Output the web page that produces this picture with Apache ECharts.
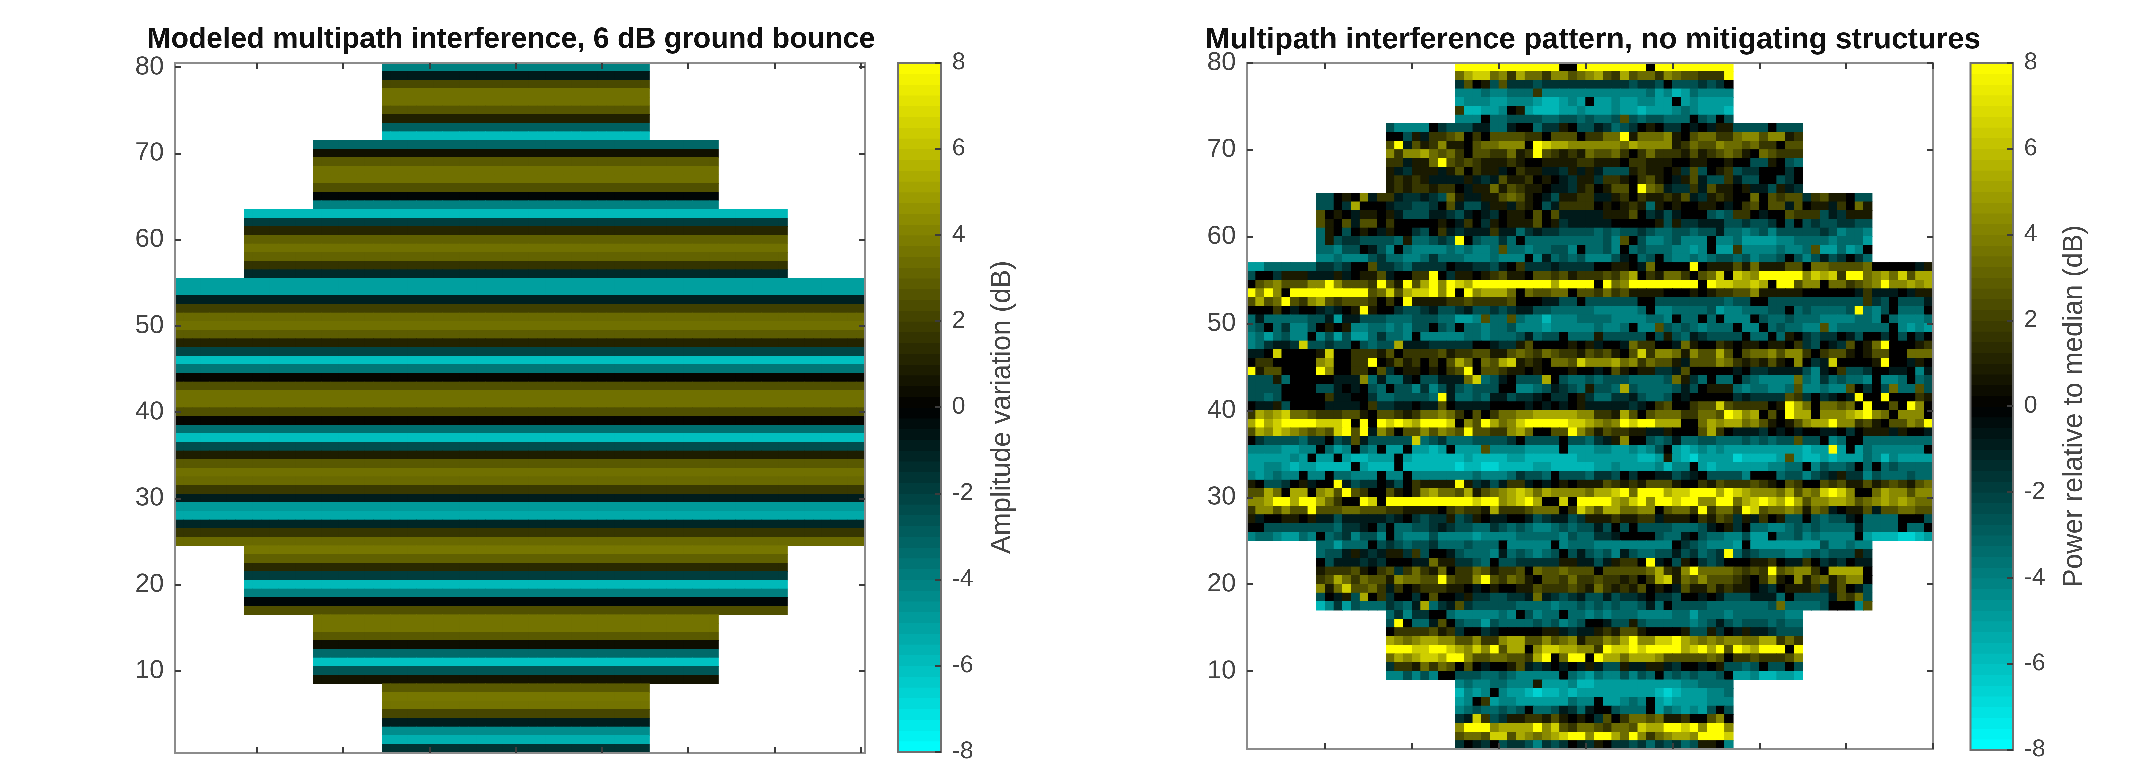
<!DOCTYPE html>
<html>
<head>
<meta charset="utf-8">
<style>
html,body{margin:0;padding:0;background:#fff}
#c{width:2142px;height:768px}
canvas{filter:blur(0.6px)}
</style>
<script src="https://cdn.jsdelivr.net/npm/echarts@6/dist/echarts.min.js"></script>
</head>
<body>
<div id="c"></div>
<script>
// Left panel: amplitude (dB) per row, row 80 first
const modeledRowValues = [
-4,-0.8,2.3,3.5,3.5,2.7,1,-3,-5.9,-3.2,0.5,2.8,3.5,3.5,2.5,-0.2,-4,-5.8,-1.9,1.2,3,3.5,3.1,1.6,-1.3,
-5,-5,-1,2,3.3,3.5,2.9,1.1,-2.2,-6,-3.7,0.2,2.5,3.5,3.5,2.5,0.15,-3.5,-6,-2.4,0.9,2.8,3.5,3.3,1.8,
-0.9,-4.8,-5.3,-1.2,1.7,3.3,3.7,3,1.3,-1.9,-5.8,-4,-0.25,2.5,3.6,3.6,2.8,0.45,-3.3,-6.1,-2.7,0.6,
2.8,3.7,3.6,2.2,-0.9,-4.4,-5.5,-1.6];
// Left panel: [first row, last row, first column, last column]
const modeledBlocks = [[72,80,25,55],[64,71,17,63],[56,63,9,71],[25,55,1,80],[17,24,9,71],[9,16,17,63],[1,8,25,55]];

// Left half ends at column 40; right half starts at column 41.
const powerStepDb = {'0':0,'1':0.8,'2':1.7,'3':2.5,'4':3.4,'5':4.3,'6':5.3,'7':6.5,'8':8,
  a:-0.8,b:-1.6,c:-2.5,d:-3.3,e:-4.1,f:-4.9,g:-5.7,h:-6.6};
const powerLeftHalf = [
"8888888888880088",
"4677452644255345",
"b301c3bbbcbbbbbb",
"eeedeeddd2eeeeee",
"feeeffeeefggfef0",
"2ggffe01fgggffef",
"eee0ddccccddccdc",
"ceeee0bcccaadda00dbb10cc",
"00c1a2234020333322033302",
"38a312511034455508766555",
"525564342033224128321214",
"22a114832321112100111122",
"1ab111a130211a0211aab1a1",
"12121aaaa1aba3112010ab11",
"121221220a114132110aab12",
"cc0105a22abbabc41aa1134310ac1122",
"cc0b6000abbccb03acca11a210ca2222",
"3010a1101acccaabca0ab0110303aaaa",
"3103a33020000010a20b10111301baaa",
"d10c010a100bc02abaaa2aadbabbcccc",
"d1cbbccccd1ddcbc80cddbd0dddddddd",
"ddecc0ace0deeeededeed3ddeddcce0d",
"eedeeecbddeedbdddeeedeee0eadcdce",
"ffddddddbbcb003bbcdbbbb0aabbca02bbbabbbb",
"c00b111aaa1a0113a002280b1101231103323122",
"0345333558533328318368587688888888868888",
"8585088888888834736778580856664043344033",
"3634832563233320208111122322223000aacc0c",
"00020a00aba018100bccbaccbaccbcbaaccddddd",
"dadddddccafaacccdddcccddffe3dd3deegeeedd",
"dc0dbeec0101eeddedecc0cd0ddeddceeefeeeee",
"edfdcee0ecfcffdbdde0eeeeeddedddcadcc0ddd",
"edbaab7ccbcc0cdcc6aaabbbbb00abb130000101",
"aa0700001700222130222231223311343 2432213",
"0220000056002280131202036404367121044375",
"8133000085002203b01101023803321101000100",
"ccc1d00000aaa5dadda0ccaaa47dca0ccc60cddc",
"cccc0000cca0a0cd0ccebecacdccc00eedcabcd1",
"ccdc000002aa00bddccccd8addcdaacbba0bb01b",
"0aa1c0000aaaa02bbaa0aa30aaaa0000a0a0a01a",
"2656744322233103321244542030244556666655",
"6867888877780808787688870538645788888776",
"36576543437838a5303353543833225640033853",
"0bccccdbb0cb3accccc7dcbdddccccb0cccc0ccd",
"eeeeffee0dfe0de0ff0ffgf0fff3eeeeffff0fff",
"fffffef0ff0fggfff0fggggggfggggffggggggff",
"ffeefgffgggg0fggg0gggggghgghhggggffggggg",
"efedee0ee0ddeee0ee0eeeeeeedeeedbccd0cccd",
"10ccb01a008acbb0ac02111181baca22a0a01011",
"3364066056383200310256443613456764655554",
"5568868864200870888888888878856786007088",
"2553533833344333221111023221622234440275",
"1a001101aacaaaaaba0bcbb1cb10aa00acbaacb1",
"00ccccccccdbba0c0ddccbabccddbcdcdeedcdcc",
"eddeffde0dcbecce0deeeceeeefeeeedddddecdd",
"ddfddd0cbcdccbdddcddd0eeeee0eddd",
"dcca1aba11b2c00acdddeadcdedc0cac",
"0caaabab000aa411bbcd0ccbbbbb11aa",
"122231023b2421402243122304334333",
"23642433154433832258324310332422",
"51473342a201222110a0100113222321",
"c0a1c602b00b0300a1bbccbba4abcbac",
"gebfcdddbcda6dba3bcccccddddeddcd",
"dbebb00deeeeede0cedd0dde",
"c80dda30cddfcddddcdcedc0",
"02222312b00ba0000011abaa",
"654566553352256633534513",
"888778876575836605776655",
"465677688533443326804880",
"b2214243030a0013aba0a0a1",
"eecece00cccddcdeeeee0def",
"edeeddeee1fffegg",
"gefe0effghggfgff",
"fe02feeffffffdee",
"edcddcdc0ddcabda",
"ba72cb1122131010",
"5888566668573244",
"3443773654567885",
"b0ab0cbbcebcb0ab"
].map(s=>s.replace(" ",""));
const powerRightHalf = [
"8888880888888888",
"6326344254332228",
"bbbbcbbc0cccbcb0",
"eeeeeedfegfdeeee",
"ffeffeeff0feffff",
"ffeffgfffedefffg",
"ddc3cdccddd0cd0c",
"abdcb010bb0a0a11cccc0ccc",
"244814445103442245535512",
"555465555124335443422033",
"334202422213123431043222",
"111022111001100100cc10cd",
"accc121101b3c012cbb000b0",
"b22102310a13acc2acc00cb0",
"01330843abb2a31101aac1ab",
"aa120211213ab12100403233b23110cc",
"010121d10100110a023033a3011a2041",
"a11130baca000cdc220a003222cab111",
"aa000001c1bbaaaccbccb0c0cbccbbcc",
"dcdccbcddccdccaddedcecccccbcedde",
"dce30ceedceee0eedffffeeddddedddf",
"dce0dcdddeefe0ff2eeeedeed3ffdfe0",
"eeca0dc0deededccdceddc0cecacb0bd",
"00110a4000080111314111330443333400000a1",
"232460214420347076588888576728845647366",
"084588888888087766760883550442345855656",
"242311110001012233511111000000a2aaa0a11",
"ccccc00ccccccccdcc00ccccccccccc2bc0ccca",
"eeeeed0eeddddcfeedddcc0dcddddc8dec0ddd0",
"ddeeeedde0dd0d0eee0cddcdddeeeedde0deeed",
"deed0ee3cdcdeddd0ee0dcddee3edddddd0efef",
"1ccccc0c1cdabcccc0dd0d10bcbb0ac00b0c0b0",
"a00a42200a41002101101102bc0ab3014800012",
"231037255415336303445355202331013300444",
"5564524331a33354212131050ba700001800a10",
"a031011bba300000a0bbaaaacea02ccb00aa0ea",
"dcccddddc41bd0dd0cdeeee4debdcdde0eed0dc",
"ccd6cddddcac0111deddeed3eedee30b0c4dd3c",
"ddbbacddc0a00000babbbb32b0ba0a800800021",
"aaaaba023002337322220186404434080030850",
"221630344422443875603086605556785405550",
"545878866600465664531013566855231033548",
"132211aa10003620aaab0a0a00aa0b0111a100a",
"ba1500cdcaddccdddcdcdcc3cc0ed00dddddddd",
"eeffefec0fgfefefffffffffgff8f0fdeeeeee0",
"fffffggf1fghffffhggggf3fggfgfffdegeffff",
"ffeffffegee0fgffffffeedd0ecddc0d0dcdddd",
"bbc0b00aacba0cccce000dccecba1bbecdddcdd",
"132121333100213222321032003231131232134",
"667848886778886876555463547875004655355",
"886578588788558846787686355665345656544",
"366445503442824428734454143a0113a334433",
"1121122a11102132b1a201cc0cdcca0dddd000c",
"ac0c0ccccdddca01b0ddeedcdcddddadddd0dd0",
"bba0000cdda0cddeecff0ddcedeeee0fggghhgf",
"eeeeeeeee0bcdeeef0ffffffffceedee",
"dceacddccacbdcb8dbcdddeedcdccc1b",
"ca12208a0c10bcb0001120aa20bab0aa",
"03333346215844443232834552066660",
"32212026714353332102510513413550",
"421213010a311312110ab01112b130ac",
"cacbba0bbc00a0acccaaad0cccca324c",
"cdcddcad0ccccdddddddc4ddddc000e3",
"dedddeeeeddfdddeddddddee",
"0acc1cdddddedcacdcccdcdd",
"12133100001cc1b0a1aabccc",
"354685577865454554466242",
"287787888867868387688808",
"866466653333343022322235",
"acc1aa11ab00a01ccdc0cc0c",
"deececd0dcdcddc0ffeggffg",
"ffffffffffeedddd",
"fffffffghgfffeed",
"0ffede0fgffffeee",
"00cddd0fdefefc0c",
"b302443411200350",
"3244376688785885",
"8864852456658887",
"10bbcbdbcbdc110e"
];
const yTickValues = [10,20,30,40,50,60,70,80];
const xTickValues = [10,20,30,40,50,60,70,80];
const colorStops = ['#00ffff','#000000','#ffff00'];
const titles = ['Modeled multipath interference, 6 dB ground bounce','Multipath interference pattern, no mitigating structures'];
const barNames = ['Amplitude variation (dB)','Power relative to median (dB)'];

const modeledData=[];
modeledRowValues.forEach((v,i)=>{
  const row=80-i;
  const b=modeledBlocks.find(k=>row>=k[0]&&row<=k[1]);
  for(let c=b[2];c<=b[3];c++) modeledData.push([c-1,row-1,v]);
});
const powerData=[];
powerLeftHalf.forEach((s,i)=>{
  const row=79-i;
  for(let k=0;k<s.length;k++) powerData.push([40-s.length+k,row-1,powerStepDb[s[k]]]);
});
powerRightHalf.forEach((s,i)=>{
  const row=79-i;
  for(let k=0;k<s.length;k++) powerData.push([40+k,row-1,powerStepDb[s[k]]]);
});
const levels=[];
for(let i=0;i<64;i++){levels.push([-8+i*0.25,-8+(i+1)*0.25,-8+(i+0.5)*0.25]);}

const TXT='#454545', FONT='"Liberation Sans",Arial,sans-serif';
const TICK={show:true,inside:true,length:6,lineStyle:{color:'#3c3c3c',width:1.5}};
const panels=[
 {left:175,top:62.7,width:690,height:690,n:80,min:0.5,max:80.5,data:modeledData},
 {left:1247,top:62.7,width:686,height:686.6,n:79,min:1,max:80,data:powerData}
];
const bars=[
 {left:898,top:62.7,width:43,height:689},
 {left:1970.5,top:62.7,width:42.5,height:687}
];
const grid=[],xAxis=[],yAxis=[],series=[];
panels.forEach((p,i)=>{
  grid.push({left:p.left,top:p.top,width:p.width,height:p.height,show:true,borderColor:'#8c8c8c',borderWidth:2,containLabel:false,z:5});
  const cats=[];for(let k=1;k<=p.n;k++)cats.push(String(k));
  const xi=xAxis.length, yi=yAxis.length;
  xAxis.push({type:'category',gridIndex:i,data:cats,show:false});
  yAxis.push({type:'category',gridIndex:i,data:cats,show:false});
  ['bottom','top'].forEach(pos=>{
    xAxis.push({type:'value',gridIndex:i,position:pos,min:p.min,max:p.max,axisLine:{show:false,onZero:false},splitLine:{show:false},z:6,
      axisTick:Object.assign({},TICK,{customValues:xTickValues}),axisLabel:{show:false}});
  });
  ['left','right'].forEach(pos=>{
    yAxis.push({type:'value',gridIndex:i,position:pos,min:p.min,max:p.max,axisLine:{show:false,onZero:false},splitLine:{show:false},z:6,
      axisTick:Object.assign({},TICK,{customValues:yTickValues}),
      axisLabel:pos==='left'?{show:true,customValues:yTickValues,color:TXT,fontSize:26,fontFamily:FONT,margin:11,showMinLabel:true,showMaxLabel:true}:{show:false}});
  });
  series.push({type:'heatmap',xAxisIndex:xi,yAxisIndex:yi,data:p.data,progressive:0,silent:true,animation:false,itemStyle:{borderWidth:0},emphasis:{disabled:true},z:2});
});
bars.forEach((b,i)=>{
  const gi=grid.length;
  grid.push({left:b.left,top:b.top,width:b.width,height:b.height,show:true,borderColor:'#707070',borderWidth:2,containLabel:false,z:5});
  const xi=xAxis.length, yi=yAxis.length;
  xAxis.push({type:'value',gridIndex:gi,min:0,max:1,show:false});
  yAxis.push({type:'value',gridIndex:gi,position:'right',min:-8,max:8,interval:2,
    axisLine:{show:false,onZero:false},splitLine:{show:false},z:6,
    axisTick:Object.assign({},TICK),
    axisLabel:{color:TXT,fontSize:24,fontFamily:FONT,margin:11},
    name:barNames[i],nameLocation:'middle',nameRotate:90,nameGap:47.5,
    nameTextStyle:{color:TXT,fontSize:27.5,fontFamily:FONT}});
  series.push({type:'custom',xAxisIndex:xi,yAxisIndex:yi,data:levels,silent:true,animation:false,z:2,
    encode:{y:[0,1]},
    renderItem:(params,api)=>{
      const a=api.coord([0,api.value(0)]),c=api.coord([1,api.value(1)]);
      return {type:'rect',shape:{x:a[0],y:c[1],width:c[0]-a[0],height:a[1]-c[1]+0.5},style:{fill:api.visual('color')}};
    }});
});
const chart=echarts.init(document.getElementById('c'),null,{renderer:'canvas',width:2142,height:768,devicePixelRatio:3});
chart.setOption({
  animation:false,
  backgroundColor:'#ffffff',
  title:[
    {text:titles[0],left:506,top:20,textAlign:'center',textStyle:{fontFamily:FONT,fontSize:29,fontWeight:'bold',color:'#111'}},
    {text:titles[1],left:1588,top:20,textAlign:'center',textStyle:{fontFamily:FONT,fontSize:29.7,fontWeight:'bold',color:'#111'}}
  ],
  tooltip:{show:false},
  grid,xAxis,yAxis,
  visualMap:{type:'continuous',show:false,min:-8,max:8,dimension:2,seriesIndex:[0,1,2,3],inRange:{color:colorStops}},
  series
});
</script>
</body>
</html>
